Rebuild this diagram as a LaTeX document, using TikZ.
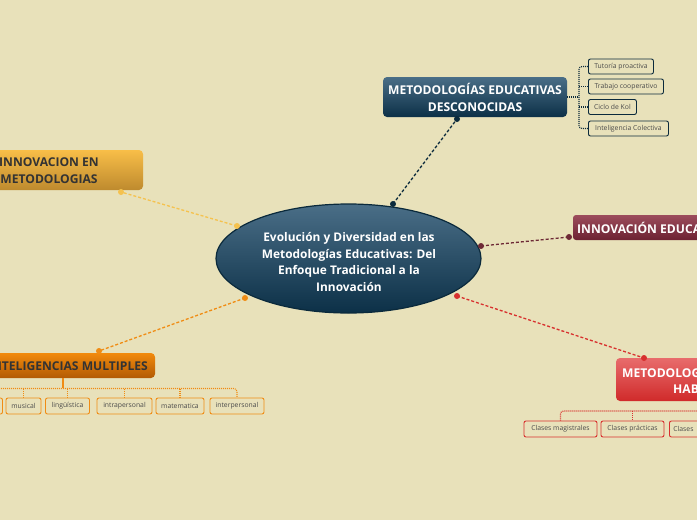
\documentclass[tikz,border=0pt]{standalone}
\usepackage{fontspec}
\setmainfont{Open Sans}
\usetikzlibrary{shapes.geometric}
\definecolor{bgc}{HTML}{E8E1BA}
\definecolor{tealT}{HTML}{4A6E87}
\definecolor{tealB}{HTML}{0C3047}
\definecolor{tealD}{HTML}{0B2A3C}
\definecolor{yelT}{HTML}{F8BE48}
\definecolor{yelB}{HTML}{BE8A2E}
\definecolor{yelL}{HTML}{F5C24E}
\definecolor{orT}{HTML}{F28A0C}
\definecolor{orB}{HTML}{B25A04}
\definecolor{orL}{HTML}{F08C14}
\definecolor{maT}{HTML}{9C4C5C}
\definecolor{maB}{HTML}{6C2232}
\definecolor{maL}{HTML}{6E2A36}
\definecolor{reT}{HTML}{E86C6C}
\definecolor{reB}{HTML}{D02A2A}
\definecolor{reL}{HTML}{D8302E}
\definecolor{txtD}{HTML}{333333}
\definecolor{txtG}{HTML}{4A4A4A}
\tikzset{
  mainconn/.style={line width=1.3pt, dash pattern=on 3pt off 2pt},
  subconn/.style={line width=1.1pt, dash pattern=on 1pt off 1pt},
  subbox/.style={rounded corners=2pt, line width=0.9pt, fill=bgc, inner sep=0pt, font=\fontsize{6.8}{7.5}\selectfont, text=txtG},
  dotc/.style={circle, inner sep=0pt, minimum size=6pt},
  bigtxt/.style={font=\fontsize{11.9}{16.5}\selectfont\bfseries, align=center, inner sep=0pt},
  boxfont/.style={font=\fontsize{12.1}{17}\selectfont\bfseries},
}
\begin{document}
\begin{tikzpicture}[x=1pt,y=-1pt]
\useasboundingbox (0,0) rectangle (697,520);
\clip (0,0) rectangle (697,520);
\fill[bgc] (0,0) rectangle (697,520);

% ---------- connectors from center ----------
\coordinate (cT) at (393,204);
\coordinate (cY) at (237,226);
\coordinate (cO) at (245,298);
\coordinate (cM) at (481,246);
\coordinate (cR) at (457,296);
\coordinate (dT) at (457,119);
\coordinate (dY) at (121,192);
\coordinate (dO) at (99,351);
\coordinate (dM) at (569,237);
\coordinate (dR) at (644,358);

\draw[mainconn, tealD] (cT) -- (dT);
\draw[mainconn, yelL] (cY) -- (dY);
\draw[mainconn, orL] (cO) -- (dO);
\draw[mainconn, maL] (cM) -- (dM);
\draw[mainconn, reL] (cR) -- (dR);

% ---------- central ellipse ----------
\node[ellipse, minimum width=265pt, minimum height=109pt, top color=tealT, bottom color=tealB, draw=tealD, line width=1.2pt] (center) at (348.5,258.5) {};
\node[bigtxt, text=white] (centertxt) at (349,262) {Evolución y Diversidad en las\\Metodologías Educativas: Del\\Enfoque Tradicional a la\\Innovación};

% ---------- top box ----------
\shade[top color=tealT, bottom color=tealB, rounded corners=4pt] (383,77) rectangle (567,117);
\node[bigtxt, text=white, boxfont] (toptxt) at (475,97.5) {METODOLOGÍAS EDUCATIVAS\\DESCONOCIDAS};
\coordinate (topR) at (567,97);

% top subtopics
\node[subbox, draw=tealD, minimum width=65pt, minimum height=15pt, anchor=west] (s1) at (588,66.5) {Tutoría proactiva};
\node[subbox, draw=tealD, minimum width=75pt, minimum height=15pt, anchor=west] (s2) at (588,86.5) {Trabajo cooperativo};
\node[subbox, draw=tealD, minimum width=48pt, minimum height=15pt, anchor=west] (s3) at (588,107) {Ciclo de Kol};
\node[subbox, draw=tealD, minimum width=80pt, minimum height=15pt, anchor=west] (s4) at (588,128.5) {Inteligencia Colectiva};
\draw[subconn, tealD] (topR) -- (578,97);
\draw[subconn, tealD, rounded corners=3pt] (s1.west) -- (579,66.5) -- (579,128.5) -- (s4.west);
\draw[subconn, tealD] (579,86.5) -- (s2.west);
\draw[subconn, tealD] (579,107) -- (s3.west);

% ---------- yellow box ----------
\shade[top color=yelT, bottom color=yelB, rounded corners=4pt] (-50,150) rectangle (143,190);
\node[bigtxt, text=txtD, boxfont] (yeltxt) at (49,171) {INNOVACION EN\\METODOLOGIAS};

% ---------- orange box ----------
\shade[top color=orT, bottom color=orB, rounded corners=4pt] (-50,353) rectangle (155,378);
\node[bigtxt, text=txtD, anchor=east, boxfont] (ortxt) at (148,366) {INTELIGENCIAS MULTIPLES};
\coordinate (orbot) at (63,378);
\draw[orL, line width=1.5pt] (orbot) -- (63,388);
% orange subtopics
\node[subbox, draw=orL, minimum width=35pt, minimum height=16pt] (o0) at (-15,406) {};
\node[subbox, draw=orL, minimum width=35pt, minimum height=16pt] (o1) at (23.5,406) {musical};
\node[subbox, draw=orL, minimum width=44pt, minimum height=16pt] (o2) at (67.5,406) {lingüística};
\node[subbox, draw=orL, minimum width=55pt, minimum height=16pt] (o3) at (124.5,406) {intrapersonal};
\node[subbox, draw=orL, minimum width=48pt, minimum height=16pt] (o4) at (180,406) {matematica};
\node[subbox, draw=orL, minimum width=54pt, minimum height=16pt] (o5) at (237,406) {interpersonal};
\draw[subconn, orL, rounded corners=3pt] (-15,398) -- (-15,388.5) -- (237,388.5) -- (o5.north);
\draw[subconn, orL] (23.5,388.5) -- (o1.north);
\draw[subconn, orL] (67.5,388.5) -- (o2.north);
\draw[subconn, orL] (124.5,388.5) -- (o3.north);
\draw[subconn, orL] (180,388.5) -- (o4.north);

% ---------- maroon box ----------
\shade[top color=maT, bottom color=maB, rounded corners=3pt] (573,215) rectangle (760,240);
\node[bigtxt, text=white, anchor=west, boxfont] (matxt) at (577,228) {INNOVACIÓN EDUCATIVA};

% ---------- red box ----------
\shade[top color=reT, bottom color=reB, rounded corners=4pt] (616,358) rectangle (780,401);
\node[bigtxt, text=white, anchor=west, boxfont] (retxt1) at (622,372) {METODOLOGÍAS};
\node[bigtxt, text=white, anchor=west, boxfont] (retxt2) at (673,389.5) {HABILIDADES};
% red subtopics
\node[subbox, draw=reL, minimum width=73pt, minimum height=16pt] (r1) at (560.5,429) {Clases magistrales};
\node[subbox, draw=reL, minimum width=63pt, minimum height=16pt] (r2) at (632.5,429) {Clases prácticas};
\node[subbox, draw=reL, minimum height=16pt, inner xsep=4pt, anchor=west] (r3) at (669,429) {Clases\hspace*{40pt}};
\draw[subconn, reL, rounded corners=3pt] (r1.north) -- (560.5,411) -- (700,411);
\draw[subconn, reL] (632.5,411) -- (r2.north);

% ---------- dots ----------
\node[dotc, fill=tealD] (pT1) at (cT) {};
\node[dotc, fill=tealD] (pT2) at (dT) {};
\node[dotc, fill=yelL] (pY1) at (cY) {};
\node[dotc, fill=yelL] (pY2) at (dY) {};
\node[dotc, fill=orL] (pO1) at (cO) {};
\node[dotc, fill=orL] (pO2) at (dO) {};
\node[dotc, fill=maL] (pM1) at (cM) {};
\node[dotc, fill=maL] (pM2) at (dM) {};
\node[dotc, fill=reL] (pR1) at (cR) {};
\node[dotc, fill=reL] (pR2) at (dR) {};
\end{tikzpicture}
\end{document}
